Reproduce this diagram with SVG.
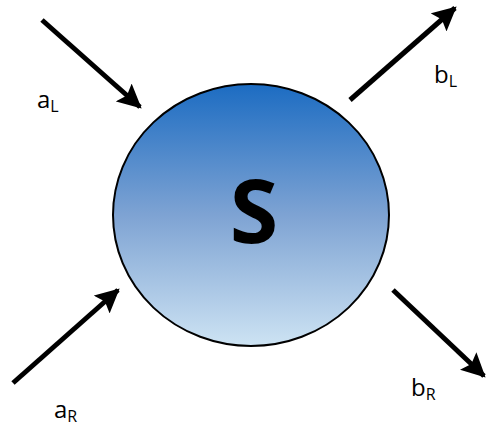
<svg xmlns="http://www.w3.org/2000/svg" width="488" height="429" viewBox="0 0 488 429">
<defs>
<linearGradient id="g" x1="0" y1="0" x2="0" y2="1">
<stop offset="0" stop-color="#1c6cc2"/>
<stop offset="0.5" stop-color="#7ea3d3"/>
<stop offset="1" stop-color="#cde3f3"/>
</linearGradient>
<marker id="ah" markerUnits="userSpaceOnUse" markerWidth="24" markerHeight="24" refX="20" refY="11" orient="auto" viewBox="0 0 22 22">
<path d="M0,0 L22,11 L0,22 L4,11 Z" fill="#000"/>
</marker>
<style>
.c{stroke:#000;stroke-width:5;fill:none;marker-end:url(#ah)}
.t{font-family:"Open Sans","Liberation Sans",sans-serif;fill:#000}
.m{font-size:24px}
.s{font-size:16px}
</style>
</defs>
<g id="node-S">
<ellipse cx="251" cy="215" rx="138" ry="131" fill="url(#g)" stroke="#000" stroke-width="2"/>
<text class="t" x="254" y="243" font-size="88" font-weight="bold" text-anchor="middle">S</text>
</g>
<g id="connectors">
<line class="c" x1="42" y1="20" x2="140" y2="107"/>
<line class="c" x1="350" y1="100" x2="455" y2="8"/>
<line class="c" x1="13" y1="383" x2="118" y2="290"/>
<line class="c" x1="393" y1="290" x2="484" y2="376"/>
</g>
<g id="labels">
<text class="t" x="37" y="108"><tspan class="m">a</tspan><tspan class="s" dy="4">L</tspan></text>
<text class="t" x="434" y="83"><tspan class="m">b</tspan><tspan class="s" dy="4">L</tspan></text>
<text class="t" x="54" y="418"><tspan class="m">a</tspan><tspan class="s" dy="4">R</tspan></text>
<text class="t" x="411" y="396"><tspan class="m">b</tspan><tspan class="s" dy="4">R</tspan></text>
</g>
</svg>
